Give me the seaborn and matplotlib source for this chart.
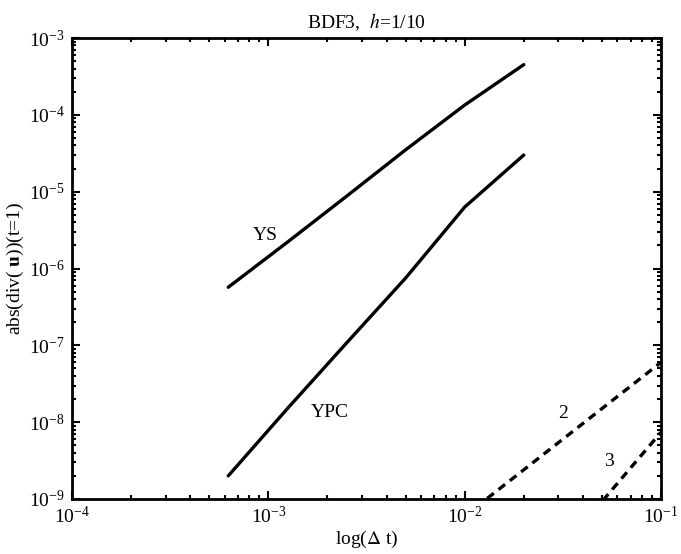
import numpy as np
import pandas as pd
import matplotlib
matplotlib.use("Agg")
import matplotlib.pyplot as plt
import seaborn as sns
from matplotlib.ticker import LogLocator, LogFormatterMathtext, NullFormatter

# ---- data ----
dt = [0.000625, 0.00125, 0.0025, 0.005, 0.01, 0.02]
ys_err = [5.7e-7, 2.2e-6, 8.7e-6, 3.5e-5, 1.34e-4, 4.5e-4]
ypc_err = [2.0e-9, 1.5e-8, 1.07e-7, 7.5e-7, 6.3e-6, 3.0e-5]
ref_dt = [0.01, 0.1]
ref2_coef = 6.0e-6   # slope-2 reference line constant
ref3_coef = 7.4e-6   # slope-3 reference line constant
labels = ["YS", "YPC", "2", "3"]
label_pos = [(9.6e-4, 2.7e-6), (2.06e-3, 1.35e-8), (0.0317, 1.3e-8), (0.0545, 3.1e-9)]

sns.set_style("ticks")
plt.rcParams["font.family"] = ["Liberation Serif", "DejaVu Serif"]
plt.rcParams["mathtext.fontset"] = "stix"
plt.rcParams["text.color"] = "black"
plt.rcParams["axes.labelcolor"] = "black"
plt.rcParams["xtick.color"] = "black"
plt.rcParams["ytick.color"] = "black"
plt.rcParams["axes.edgecolor"] = "black"

fig = plt.figure(figsize=(6.81, 5.54), dpi=100)
ax = fig.add_axes([72/681, 1-499/554, (661-72)/681, (499-38)/554])

df = pd.DataFrame({"dt": dt + dt, "err": ys_err + ypc_err,
                   "method": ["YS"]*len(dt) + ["YPC"]*len(dt)})
sns.lineplot(data=df, x="dt", y="err", units="method", estimator=None,
             color="black", lw=2.4, ax=ax, legend=False)

ref_x = np.array(ref_dt)
sns.lineplot(x=ref_x, y=ref2_coef*ref_x**2, color="black", lw=2.4,
             linestyle=(0, (2.5, 1.8)), ax=ax, legend=False)
sns.lineplot(x=ref_x, y=ref3_coef*ref_x**3, color="black", lw=2.4,
             linestyle=(0, (2.5, 1.8)), ax=ax, legend=False)

ax.set_xscale("log")
ax.set_yscale("log")
ax.set_xlim(1e-4, 1e-1)
ax.set_ylim(1e-9, 1e-3)

fs = 14
for txt, (x, y) in zip(labels, label_pos):
    ax.text(x, y, txt, fontsize=fs, ha="center", va="center", color="black")

ax.xaxis.set_major_locator(LogLocator(base=10, numticks=10))
ax.yaxis.set_major_locator(LogLocator(base=10, numticks=10))
ax.xaxis.set_minor_locator(LogLocator(base=10, subs=np.arange(2, 10), numticks=20))
ax.yaxis.set_minor_locator(LogLocator(base=10, subs=np.arange(2, 10), numticks=20))
ax.xaxis.set_major_formatter(LogFormatterMathtext())
ax.yaxis.set_major_formatter(LogFormatterMathtext())
ax.xaxis.set_minor_formatter(NullFormatter())
ax.yaxis.set_minor_formatter(NullFormatter())

ax.tick_params(which="both", direction="in", top=True, right=True,
               labelsize=fs, width=1.5, colors="black")
ax.tick_params(which="major", length=6, pad=5)
ax.tick_params(which="minor", length=3)
for sp in ax.spines.values():
    sp.set_linewidth(2.0)
    sp.set_visible(True)
    sp.set_color("black")

ax.set_title(r"BDF3,  $h$=1/10", fontsize=fs, pad=7)
ax.set_xlabel(r"log($\Delta$ t)", fontsize=fs, labelpad=1)
ax.set_ylabel(r"abs(div( $\mathbf{u}$))(t=1)", fontsize=fs, labelpad=2)

fig.savefig("out.png", dpi=100)
